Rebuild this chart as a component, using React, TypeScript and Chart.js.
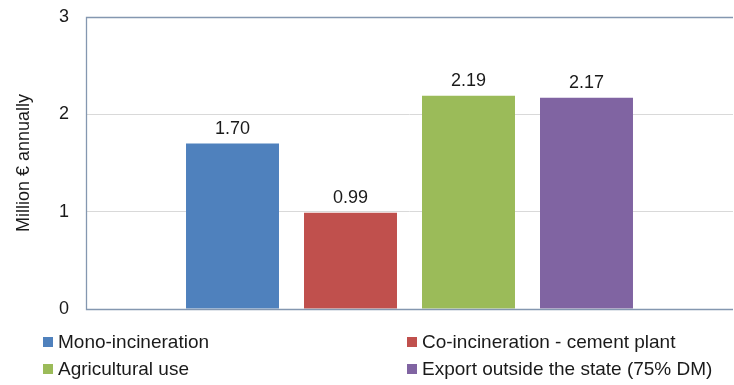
import React, { useEffect, useRef } from "react";
import { Chart, registerables } from "chart.js";

Chart.register(...registerables);

const categories: string[] = [""];
const seriesNames: string[] = [
  "Mono-incineration",
  "Co-incineration - cement plant",
  "Agricultural use",
  "Export outside the state (75% DM)",
];
const seriesValues: number[] = [1.7, 0.99, 2.19, 2.17];
const seriesColors: string[] = ["#4F81BD", "#C0504D", "#9BBB59", "#8064A2"];
const yTicks: number[] = [0, 1, 2, 3];
const yTitle = "Million € annually";

const FONT = "'Liberation Sans', Arial, sans-serif";
const TEXT_COLOR = "#1a1a1a";

const decorPlugin = {
  id: "decor",
  afterDatasetsDraw(chart: any) {
    const { ctx, chartArea } = chart;
    const { left, top, right, bottom } = chartArea;
    ctx.save();
    ctx.strokeStyle = "#8497B0";
    ctx.lineWidth = 1.3;
    ctx.beginPath();
    ctx.moveTo(right, top + 0.5);
    ctx.lineTo(left + 0.5, top + 0.5);
    ctx.lineTo(left + 0.5, bottom + 0.5);
    ctx.lineTo(right, bottom + 0.5);
    ctx.stroke();

    // value labels
    ctx.fillStyle = TEXT_COLOR;
    ctx.font = `18px ${FONT}`;
    ctx.textAlign = "center";
    ctx.textBaseline = "alphabetic";
    chart.data.datasets.forEach((ds: any, i: number) => {
      const meta = chart.getDatasetMeta(i);
      meta.data.forEach((bar: any, j: number) => {
        const v = ds.data[j] as number;
        ctx.fillText(v.toFixed(2), bar.x, bar.y - 10);
      });
    });
    ctx.restore();
  },
  afterDraw(chart: any) {
    const { ctx } = chart;
    const colX = [43, 407];
    const rowY = [342, 369];
    ctx.save();
    ctx.font = `19px ${FONT}`;
    ctx.textAlign = "left";
    ctx.textBaseline = "middle";
    chart.data.datasets.forEach((ds: any, i: number) => {
      const x = colX[i % 2];
      const y = rowY[Math.floor(i / 2)];
      ctx.fillStyle = ds.backgroundColor;
      ctx.fillRect(x, y - 5, 10, 10);
      ctx.fillStyle = TEXT_COLOR;
      ctx.fillText(ds.label, x + 15, y + 1);
    });
    ctx.restore();
  },
};

export default function App() {
  const ref = useRef<HTMLCanvasElement | null>(null);

  useEffect(() => {
    if (!ref.current) return;
    const chart = new Chart(ref.current, {
      type: "bar",
      data: {
        labels: categories,
        datasets: seriesNames.map((name, i) => ({
          label: name,
          data: [seriesValues[i]],
          backgroundColor: seriesColors[i],
          borderWidth: 0,
          categoryPercentage: 0.7295,
          barPercentage: 0.788,
        })),
      },
      options: {
        animation: false,
        responsive: false,
        maintainAspectRatio: false,
        layout: { padding: { top: 17, right: 1, bottom: 76, left: 0 } },
        plugins: {
          legend: { display: false },
          tooltip: { enabled: false },
        },
        scales: {
          x: {
            type: "category",
            ticks: { display: false },
            grid: { display: false },
            border: { display: false },
            afterFit: (s: any) => {
              s.height = 0;
            },
          },
          y: {
            min: 0,
            max: 3,
            afterBuildTicks: (s: any) => {
              s.ticks = yTicks.map((v) => ({ value: v }));
            },
            ticks: {
              padding: 17,
              color: TEXT_COLOR,
              font: { family: FONT, size: 18 },
            },
            grid: { color: "#D9D9D9", drawTicks: false, lineWidth: 1 },
            border: { display: false },
            title: {
              display: true,
              text: yTitle,
              color: TEXT_COLOR,
              font: { family: FONT, size: 18 },
              padding: { top: 13, bottom: 0 },
            },
            afterFit: (s: any) => {
              s.width = 86;
              s.paddingTop = 0;
              s.paddingBottom = 0;
            },
          },
        },
      },
      plugins: [decorPlugin],
    });
    return () => chart.destroy();
  }, []);

  return (
    <div style={{ position: "fixed", left: 0, top: 0, width: 734, height: 385, background: "#fff" }}>
      <canvas ref={ref} width={734} height={385} style={{ width: 734, height: 385, display: "block" }} />
    </div>
  );
}
